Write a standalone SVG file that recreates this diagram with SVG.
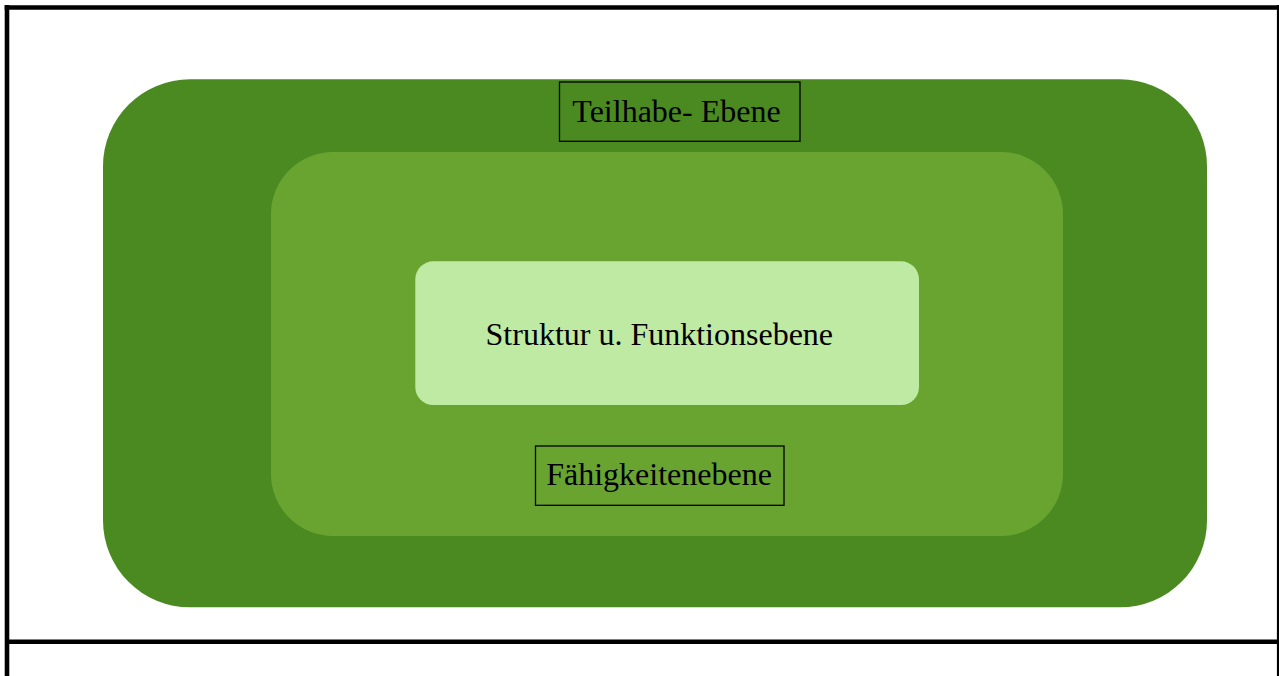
<svg xmlns="http://www.w3.org/2000/svg" width="1279" height="676" viewBox="0 0 1279 676">
<style>
.lbl{font-family:"Liberation Serif","Times New Roman",serif;font-size:32px;fill:#000;text-anchor:middle}
.box{fill:none;stroke:#000;stroke-width:1.3}
.frame{stroke:#000;stroke-width:4.6;fill:none}
</style>
<rect width="1279" height="676" fill="#fff"/>
<g id="frame">
<line class="frame" x1="4.7" y1="7.5" x2="1281" y2="7.5"/>
<line class="frame" x1="7" y1="5" x2="7" y2="676"/>
<line class="frame" x1="1279.2" y1="5" x2="1279.2" y2="676"/>
<line class="frame" x1="5" y1="641.7" x2="1281" y2="641.7"/>
</g>
<g id="teilhabe">
<rect x="103" y="79.3" width="1104" height="528" rx="87" ry="87" fill="#4a8a21"/>
<rect class="box" x="559.5" y="82" width="240.5" height="59.3"/>
<text class="lbl" x="676.5" y="121.5">Teilhabe- Ebene</text>
</g>
<g id="faehigkeiten">
<rect x="271" y="152" width="792" height="384" rx="62" ry="62" fill="#69a431"/>
<rect class="box" x="535.5" y="446" width="248.5" height="59.3"/>
<text class="lbl" x="659" y="485">Fähigkeitenebene</text>
</g>
<g id="struktur">
<rect x="415.3" y="261.3" width="503.7" height="143.7" rx="18" ry="18" fill="#bfeaa3"/>
<text class="lbl" x="659.3" y="344.5">Struktur u. Funktionsebene</text>
</g>
<g id="connectors"/>
</svg>
